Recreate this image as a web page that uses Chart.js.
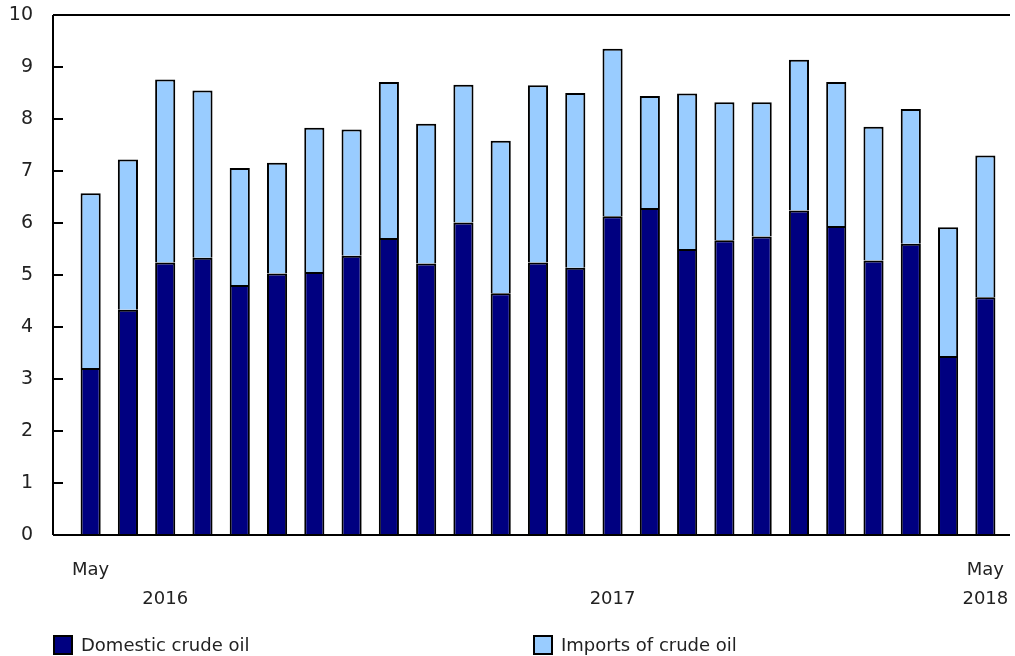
<!DOCTYPE html>
<html>
<head>
<meta charset="utf-8">
<script src="https://cdn.jsdelivr.net/npm/chart.js@4/dist/chart.umd.min.js"></script>
<style>
  body{margin:0;background:#fff;font-family:"DejaVu Sans",Verdana,sans-serif;}
  .wrap{position:relative;width:1015px;height:656px;overflow:hidden;}
  .legend{position:absolute;top:635px;height:20px;font-size:18px;line-height:20px;color:#222;display:flex;align-items:center;}
  .legend .sw{width:20px;height:20px;border:2px solid #000;margin-right:8px;box-sizing:border-box;}
</style>
</head>
<body>
<div class="wrap">
  <canvas id="chart" width="1015" height="656"></canvas>
  <div class="legend" style="left:53px"><span class="sw" style="background:#000080"></span>Domestic crude oil</div>
  <div class="legend" style="left:533px"><span class="sw" style="background:#99ccff"></span>Imports of crude oil</div>
</div>
<script>
// May 2016 to May 2018
const months = ['May','Jun','Jul','Aug','Sep','Oct','Nov','Dec','Jan','Feb','Mar','Apr','May','Jun','Jul','Aug','Sep','Oct','Nov','Dec','Jan','Feb','Mar','Apr','May'];
const domestic = [3.21,4.33,5.24,5.33,4.81,5.03,5.06,5.37,5.71,5.22,6.01,4.65,5.24,5.14,6.13,6.29,5.50,5.67,5.74,6.24,5.94,5.28,5.60,3.44,4.57];
const imports  = [3.36,2.89,3.52,3.22,2.25,2.13,2.77,2.43,3.00,2.69,2.65,2.93,3.41,3.36,3.22,2.15,2.99,2.65,2.58,2.90,2.77,2.57,2.59,2.48,2.73];
// tick labels shown under the axis: [month line, year line]
const xTickLabels = {0:['May',''], 2:['','2016'], 14:['','2017'], 24:['May','2018']};
const yTicks = [0,1,2,3,4,5,6,7,8,9,10];

const FONT = {family:'"DejaVu Sans", Verdana, sans-serif', size:18};

// frame: left, top and bottom lines plus short inner ticks on the y axis
const frame = {
  id:'frame',
  afterDatasetsDraw(chart){
    const {ctx, chartArea:a, scales:{y}} = chart;
    const left = a.left - 19, right = a.right + 6;
    ctx.save();
    ctx.strokeStyle = '#000';
    ctx.lineWidth = 2;
    ctx.beginPath();
    ctx.moveTo(left, a.top); ctx.lineTo(right, a.top);
    ctx.moveTo(left, a.top); ctx.lineTo(left, a.bottom);
    ctx.moveTo(left, a.bottom); ctx.lineTo(right, a.bottom);
    ctx.stroke();
    ctx.beginPath();
    yTicks.slice(1, -1).forEach(v=>{
      const py = Math.round(y.getPixelForValue(v));
      ctx.moveTo(left, py); ctx.lineTo(left + 10, py);
    });
    ctx.stroke();
    ctx.restore();
  }
};

new Chart(document.getElementById('chart'), {
  type:'bar',
  data:{
    labels: months,
    datasets:[
      {label:'Domestic crude oil', data:domestic, backgroundColor:'#000080', borderColor:'#000', borderWidth:2},
      {label:'Imports of crude oil', data:imports, backgroundColor:'#99ccff', borderColor:'#000', borderWidth:2}
    ]
  },
  options:{
    responsive:false,
    animation:false,
    layout:{padding:{top:15, right:11, bottom:0, left:0}},
    datasets:{bar:{barPercentage:0.54, categoryPercentage:1}},
    plugins:{legend:{display:false}, tooltip:{enabled:false}},
    scales:{
      x:{
        stacked:true,
        grid:{display:false},
        border:{display:false},
        ticks:{
          autoSkip:false, maxRotation:0, color:'#222', padding:12,
          font:{...FONT, lineHeight:1.65},
          callback:(v,i)=> xTickLabels[i] || ''
        },
        afterFit(s){ s.height = 121; s.paddingLeft = 0; s.paddingRight = 0; }
      },
      y:{
        stacked:true, min:0, max:10,
        grid:{display:false},
        border:{display:false},
        ticks:{stepSize:1, color:'#222', padding:31, font:{...FONT, size:19}},
        afterFit(s){ s.width = 72; s.paddingTop = 0; s.paddingBottom = 0; }
      }
    }
  },
  plugins:[frame]
});
</script>
</body>
</html>
